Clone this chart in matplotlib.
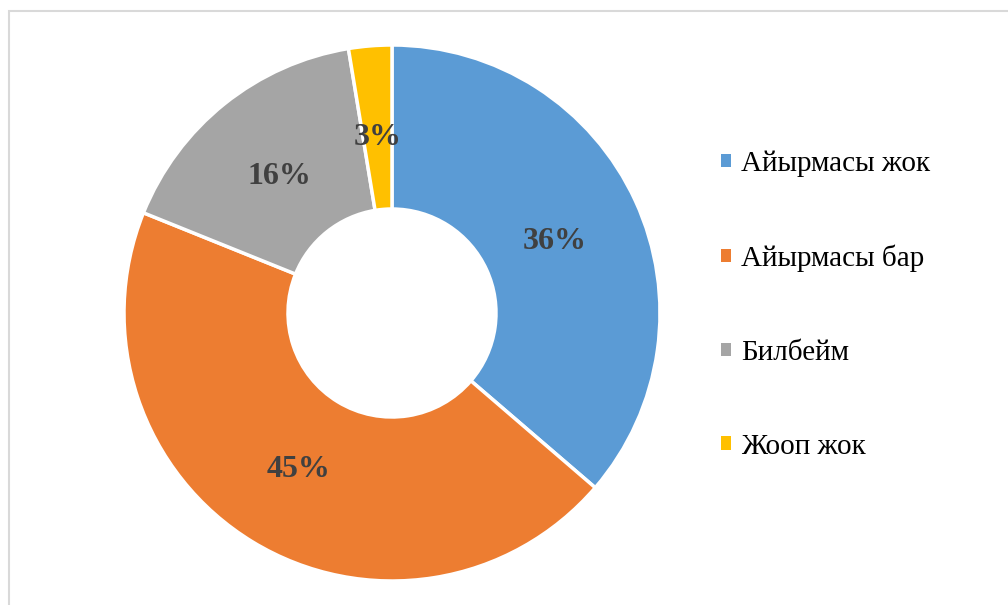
import matplotlib.pyplot as plt
from matplotlib.patches import Rectangle

labels = ["Айырмасы жок", "Айырмасы бар", "Билбейм", "Жооп жок"]
shares = [36.3, 44.8, 16.3, 2.6]
colors = ["#5B9BD5", "#ED7D31", "#A5A5A5", "#FFC000"]

plt.rcParams["font.family"] = ["Liberation Serif", "DejaVu Serif"]

fig = plt.figure(figsize=(10.08, 6.05), dpi=100)
W, H = 1008, 605

# chart border (light grey frame, cut off at the right/bottom)
fig.patches.append(Rectangle((9 / W, -0.1), 1.2, 1 - 11 / H + 0.1,
                             transform=fig.transFigure, fill=False,
                             edgecolor="#D9D9D9", linewidth=1.5))

cx, cy, r = 392, 313, 268
ax = fig.add_axes([(cx - r) / W, (H - cy - r) / H, 2 * r / W, 2 * r / H])

wedges, texts, autotexts = ax.pie(
    shares, colors=colors, startangle=90, counterclock=False, radius=1,
    autopct="%.0f%%", pctdistance=0.67,
    wedgeprops=dict(width=1 - 104 / 268, edgecolor="white", linewidth=2.5),
    textprops=dict(fontsize=23, fontweight="bold", color="#404040"),
)
for t in autotexts:
    t.set_va("center_baseline")
ax.set_xlim(-1, 1)
ax.set_ylim(-1, 1)
ax.set_aspect("equal")
ax.axis("off")

leg = fig.legend(wedges, labels, loc="center left",
                 bbox_to_anchor=(721 / W, (H - 305) / H),
                 frameon=False, fontsize=21, labelspacing=2.32,
                 borderaxespad=0, borderpad=0,
                 handlelength=0.33, handleheight=0.33, handletextpad=0.35)
for h in leg.legend_handles:
    h.set_edgecolor("none")

fig.savefig("out.png", dpi=100)
